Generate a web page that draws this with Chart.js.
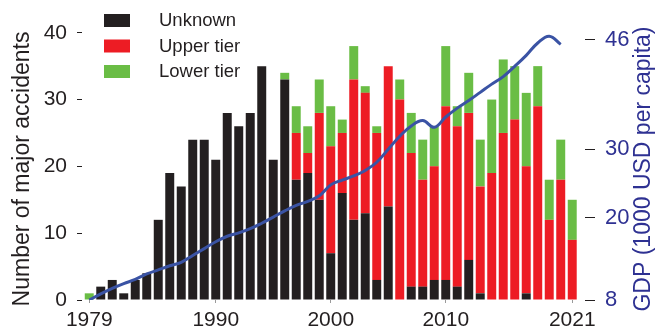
<!DOCTYPE html>
<html>
<head>
<meta charset="utf-8">
<script src="https://cdn.jsdelivr.net/npm/chart.js@4/dist/chart.umd.min.js"></script>
<style>
  html, body { margin: 0; padding: 0; background: #ffffff; }
  #wrap { width: 658px; height: 332px; position: relative; }
  canvas { display: block; }
</style>
</head>
<body>
<div id="wrap"><canvas id="chart" width="658" height="332"></canvas></div>
<script>
// Major accidents per year, split by establishment tier
const years = [1979, 1980, 1981, 1982, 1983, 1984, 1985, 1986, 1987, 1988,
               1989, 1990, 1991, 1992, 1993, 1994, 1995, 1996, 1997, 1998,
               1999, 2000, 2001, 2002, 2003, 2004, 2005, 2006, 2007, 2008,
               2009, 2010, 2011, 2012, 2013, 2014, 2015, 2016, 2017, 2018,
               2019, 2020, 2021];
const unknown   = [0, 2, 3, 1, 3, 4, 12, 19, 17, 24,
                   24, 21, 28, 26, 28, 35, 21, 33, 18, 19,
                   15, 7, 16, 12, 13, 3, 14, 0, 2, 2,
                   3, 3, 2, 6, 1, 0, 0, 0, 1, 0,
                   0, 0, 0];
const upperTier = [0, 0, 0, 0, 0, 0, 0, 0, 0, 0,
                   0, 0, 0, 0, 0, 0, 0, 0, 7, 3,
                   13, 16, 9, 21, 18, 22, 21, 30, 20, 16,
                   17, 26, 24, 22, 16, 19, 25, 27, 19, 29,
                   12, 18, 9];
const lowerTier = [1, 0, 0, 0, 0, 0, 0, 0, 0, 0,
                   0, 0, 0, 0, 0, 0, 0, 1, 4, 4,
                   5, 6, 2, 5, 1, 1, 0, 3, 6, 6,
                   6, 9, 3, 6, 7, 11, 11, 8, 11, 6,
                   6, 6, 6];

// GDP per capita (thousand USD)
const gdpYears = [1979, 1980, 1981, 1982, 1983, 1984, 1985, 1986, 1987, 1988,
                  1989, 1990, 1991, 1992, 1993, 1994, 1995, 1996, 1997, 1998,
                  1999, 2000, 2001, 2002, 2003, 2004, 2005, 2006, 2007, 2008,
                  2009, 2010, 2011, 2012, 2013, 2014, 2015, 2016, 2017, 2018,
                  2019, 2020];
const gdp = [8.0, 8.9, 9.7, 10.4, 11.0, 11.8, 12.4, 13.0, 13.5, 14.5,
             15.5, 16.5, 17.3, 17.8, 18.4, 19.2, 20.1, 21.0, 21.8, 22.4,
             23.2, 24.8, 25.5, 26.1, 26.9, 28.1, 30.0, 31.9, 33.4, 34.2,
             33.2, 34.7, 36.0, 37.1, 38.3, 39.5, 40.6, 42.1, 43.7, 45.5,
             46.5, 45.3];

// Tick labels
const yearTicks = [1979, 1990, 2000, 2010, 2021];
const countTicks = [0, 10, 20, 30, 40];
const gdpTicks = [8, 20, 30, 46];

const INK = '#231f20';
const BLUE_TEXT = '#2e3192';
const FONT = '"Liberation Sans", Arial, Helvetica, sans-serif';

Chart.defaults.font.family = FONT;

const toPoints = (xs, ys) => xs.map((x, i) => ({ x: x, y: ys[i] === 0 ? null : ys[i] }));

// Keep the plot area edges fixed: no extra room for overhanging tick labels
const noLabelPadding = s => {
  s.paddingTop = 0; s.paddingBottom = 0; s.paddingLeft = 0; s.paddingRight = 0;
};

// Legend drawn as a column inside the plot area, top left
const boxLegend = {
  id: 'boxLegend',
  afterDatasetsDraw(chart) {
    const { ctx, chartArea } = chart;
    ctx.save();
    ctx.font = '18.5px ' + FONT;
    ctx.textBaseline = 'middle';
    ctx.textAlign = 'left';
    chart.data.datasets.filter(d => d.type !== 'line').forEach((ds, i) => {
      const top = chartArea.top + 8 + i * 25.5;
      ctx.fillStyle = ds.backgroundColor;
      ctx.fillRect(chartArea.left + 22, top, 26, 13);
      ctx.fillStyle = INK;
      ctx.fillText(ds.label, chartArea.left + 77, top + 7);
    });
    ctx.restore();
  }
};

// Rotated axis titles on both sides
const axisTitles = {
  id: 'axisTitles',
  afterDraw(chart) {
    const { ctx } = chart;
    const drawRotated = (text, x, y, color) => {
      ctx.save();
      ctx.translate(x, y);
      ctx.rotate(-Math.PI / 2);
      ctx.font = '23px ' + FONT;
      ctx.textAlign = 'center';
      ctx.textBaseline = 'middle';
      ctx.fillStyle = color;
      ctx.fillText(text, 0, 0);
      ctx.restore();
    };
    drawRotated('Number of major accidents', 23, 169, INK);
    drawRotated('GDP (1000 USD per capita)', 644, 169, BLUE_TEXT);
  }
};

new Chart(document.getElementById('chart'), {
  type: 'bar',
  data: {
    datasets: [
      {
        type: 'line',
        label: 'GDP',
        data: toPoints(gdpYears, gdp),
        yAxisID: 'y2',
        borderColor: '#3a53a4',
        borderWidth: 3,
        pointRadius: 0,
        tension: 0.4,
        fill: false,
        order: 0
      },
      { label: 'Unknown',    data: toPoints(years, unknown),   backgroundColor: INK,       borderWidth: 0, order: 1 },
      { label: 'Upper tier', data: toPoints(years, upperTier), backgroundColor: '#ed1c24', borderWidth: 0, order: 1 },
      { label: 'Lower tier', data: toPoints(years, lowerTier), backgroundColor: '#6abd45', borderWidth: 0, order: 1 }
    ]
  },
  options: {
    responsive: false,
    animation: false,
    maintainAspectRatio: false,
    devicePixelRatio: 1,
    layout: { padding: { top: 6, left: 0, right: 0, bottom: 0 } },
    datasets: { bar: { barPercentage: 0.78, categoryPercentage: 1.0 } },
    plugins: { legend: { display: false }, tooltip: { enabled: false } },
    scales: {
      x: {
        type: 'linear',
        offset: false,
        min: 1978.37,
        max: 2022.11,
        stacked: true,
        border: { display: false },
        grid: { drawOnChartArea: false, drawTicks: true, tickLength: 3, tickColor: '#9a9a9a', offset: false },
        ticks: { font: { size: 21 }, color: INK, padding: 5, maxRotation: 0, autoSkip: false,
                 callback: v => String(v) },
        afterBuildTicks: s => { s.ticks = yearTicks.map(v => ({ value: v })); },
        afterFit: s => { s.height = 32; noLabelPadding(s); }
      },
      y: {
        position: 'left',
        min: 0,
        max: 44,
        stacked: true,
        border: { display: false },
        grid: { drawOnChartArea: false, drawTicks: true, tickLength: 5, tickColor: INK },
        ticks: { font: { size: 21 }, color: INK, padding: 10 },
        afterBuildTicks: s => { s.ticks = countTicks.map(v => ({ value: v })); },
        afterFit: s => { s.width = 82; noLabelPadding(s); }
      },
      y2: {
        position: 'right',
        min: 8,
        max: 50.9,
        border: { display: false },
        grid: { drawOnChartArea: false, drawTicks: true, tickLength: 10, tickColor: INK },
        ticks: { font: { size: 22 }, color: BLUE_TEXT, padding: 10 },
        afterBuildTicks: s => { s.ticks = gdpTicks.map(v => ({ value: v })); },
        afterFit: s => { s.width = 73; noLabelPadding(s); }
      }
    }
  },
  plugins: [boxLegend, axisTitles]
});
</script>
</body>
</html>
